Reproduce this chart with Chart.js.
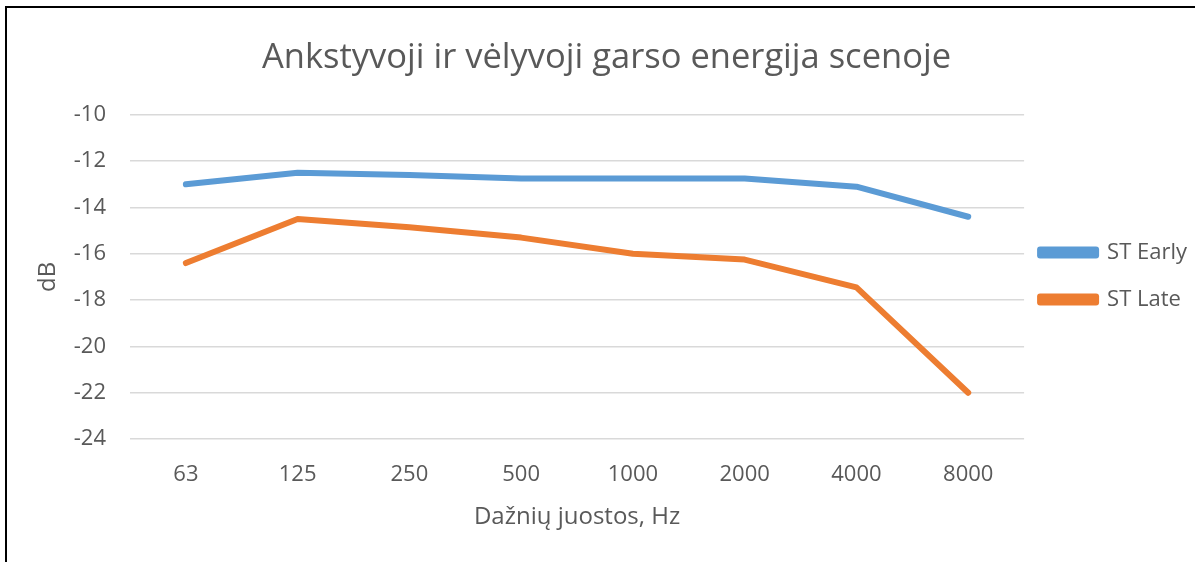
<!DOCTYPE html>
<html>
<head>
<meta charset="utf-8">
<script src="https://cdn.jsdelivr.net/npm/chart.js@4.4.1/dist/chart.umd.min.js"></script>
<style>
    html, body { margin: 0; padding: 0; background: #fff; }
    #frame {
        position: absolute;
        left: 5px;
        top: 6px;
        width: 1190px;
        height: 556px;
        border-left: 2px solid #000;
        border-top: 2px solid #000;
    }
    #chart { display: block; }
</style>
</head>
<body>
<div id="frame"><canvas id="chart" width="1188" height="554"></canvas></div>
<script>
// Frequency bands (Hz)
const bands = ['63', '125', '250', '500', '1000', '2000', '4000', '8000'];
// Sound energy, dB
const stEarly = [-13.0, -12.5, -12.6, -12.75, -12.75, -12.75, -13.1, -14.4];
const stLate = [-16.4, -14.5, -14.85, -15.3, -16.0, -16.25, -17.45, -22.0];
// Y axis range
const yMin = -24;
const yMax = -10;
const yStep = 2;

const FONT = "'Open Sans', sans-serif";
const TEXT = '#595959';

// nudge the legend a bit so it sits where Excel puts it
const legendNudge = {
    id: 'legendNudge',
    afterLayout(chart) {
        const lg = chart.legend;
        const dx = -9, dy = -9;
        lg.left += dx; lg.right += dx;
        lg.top += dy; lg.bottom += dy;
    }
};

const ctx = document.getElementById('chart');

new Chart(ctx, {
    type: 'line',
    data: {
        labels: bands,
        datasets: [{
            label: 'ST Early',
            data: stEarly,
            borderColor: '#5B9BD5',
            backgroundColor: '#5B9BD5',
            borderWidth: 6,
            borderCapStyle: 'round',
            borderJoinStyle: 'round',
            pointRadius: 0,
            tension: 0
        }, {
            label: 'ST Late',
            data: stLate,
            borderColor: '#ED7D31',
            backgroundColor: '#ED7D31',
            borderWidth: 6,
            borderCapStyle: 'round',
            borderJoinStyle: 'round',
            pointRadius: 0,
            tension: 0
        }]
    },
    options: {
        responsive: false,
        animation: false,
        layout: {
            padding: { left: 0, right: -11, top: 0, bottom: 0 }
        },
        plugins: {
            title: {
                display: true,
                text: 'Ankstyvoji ir vėlyvoji garso energija scenoje',
                color: TEXT,
                font: { family: FONT, size: 34.5, weight: 'normal' },
                padding: { top: 29, bottom: 36.5 }
            },
            legend: {
                position: 'right',
                labels: {
                    color: TEXT,
                    font: { family: FONT, size: 22 },
                    boxWidth: 56,
                    boxHeight: 6,
                    padding: 25
                }
            },
            tooltip: { enabled: false }
        },
        scales: {
            x: {
                offset: true,
                afterFit: function(scale) {
                    scale.height = 123;
                },
                grid: { display: false, drawTicks: false },
                border: { display: false },
                ticks: {
                    color: TEXT,
                    font: { family: FONT, size: 22 },
                    padding: 23,
                    maxRotation: 0
                },
                title: {
                    display: true,
                    text: 'Dažnių juostos, Hz',
                    color: TEXT,
                    font: { family: FONT, size: 24 },
                    padding: { top: 10, bottom: 30 }
                }
            },
            y: {
                min: yMin,
                max: yMax,
                afterFit: function(scale) {
                    scale.width = 123;
                },
                grid: {
                    color: '#D9D9D9',
                    lineWidth: 1.5,
                    drawTicks: false
                },
                border: { display: false },
                ticks: {
                    stepSize: yStep,
                    color: TEXT,
                    font: { family: FONT, size: 22 },
                    padding: 24
                },
                title: {
                    display: true,
                    text: 'dB',
                    color: TEXT,
                    font: { family: FONT, size: 24 },
                    padding: { top: 27, bottom: 0 }
                }
            }
        }
    },
    plugins: [legendNudge]
});
</script>
</body>
</html>
